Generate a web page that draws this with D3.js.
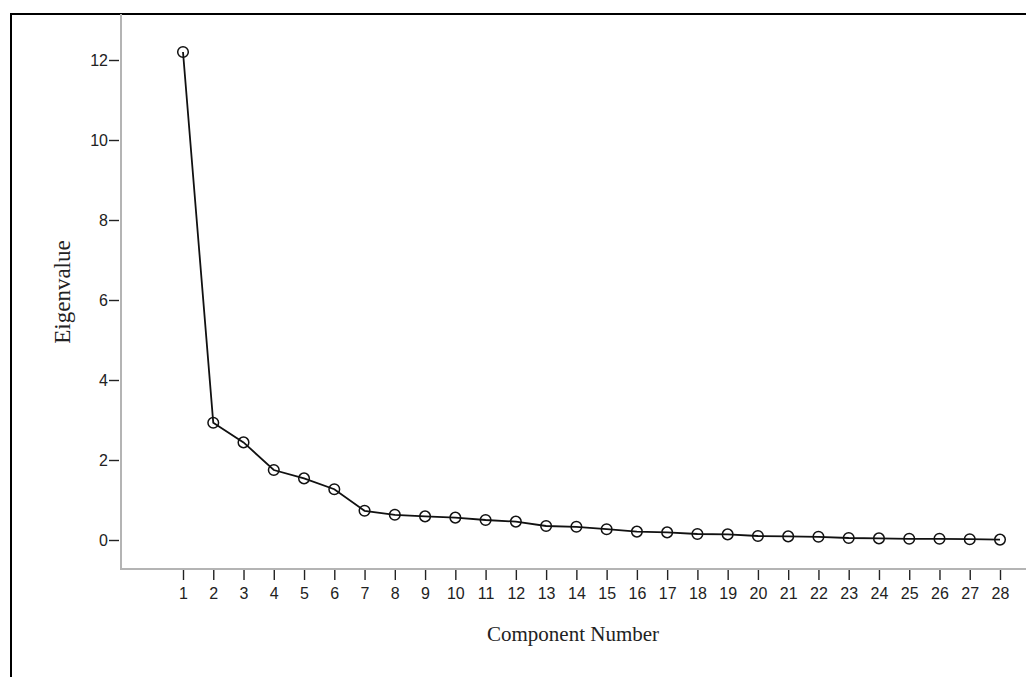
<!DOCTYPE html>
<html>
<head>
<meta charset="utf-8">
<script src="https://cdn.jsdelivr.net/npm/d3@7"></script>
<style>
  body { margin: 0; background: #fff; }
  svg { display: block; }
</style>
</head>
<body>
<div id="chart"></div>
<script>
// scree plot data
const components = d3.range(1, 29);
const eigenvalues = [12.2, 2.93, 2.44, 1.75, 1.54, 1.27, 0.73, 0.63, 0.59, 0.56,
  0.5, 0.46, 0.35, 0.33, 0.27, 0.21, 0.19, 0.15, 0.14, 0.1,
  0.09, 0.08, 0.05, 0.04, 0.03, 0.03, 0.02, 0.01];
const yTicks = [0, 2, 4, 6, 8, 10, 12];

const width = 1026;
const height = 677;

const svg = d3.select("#chart")
  .append("svg")
  .attr("width", width)
  .attr("height", height);

// outer frame (cut off at right and bottom)
svg.append("path")
  .attr("d", `M11,${height + 5} L11,14 L${width + 5},14`)
  .attr("fill", "none")
  .attr("stroke", "#000")
  .attr("stroke-width", 2);

const x = d3.scaleLinear().domain([1, 28]).range([183, 1000]);
const y = d3.scaleLinear().domain([0, 12]).range([540, 60]);

const axisX = 121;
const axisY = 569;

// gray axis lines
svg.append("line")
  .attr("x1", axisX).attr("x2", axisX)
  .attr("y1", 14).attr("y2", axisY + 1)
  .attr("stroke", "#b4b4b4").attr("stroke-width", 2);
svg.append("line")
  .attr("x1", axisX - 1).attr("x2", width)
  .attr("y1", axisY).attr("y2", axisY)
  .attr("stroke", "#b4b4b4").attr("stroke-width", 2);

const gx = svg.append("g")
  .attr("transform", `translate(0,${axisY + 1})`)
  .call(d3.axisBottom(x).tickValues(components).tickSize(10).tickPadding(8).tickFormat(d3.format("d")));
gx.select(".domain").remove();

const gy = svg.append("g")
  .attr("transform", `translate(${axisX - 2},0)`)
  .call(d3.axisLeft(y).tickValues(yTicks).tickSize(10).tickPadding(1).tickFormat(d3.format("d")));
gy.select(".domain").remove();

svg.selectAll(".tick line").attr("stroke", "#222").attr("stroke-width", 1.4);
svg.selectAll(".tick text")
  .attr("font-family", "'Liberation Sans', Arial, sans-serif")
  .attr("font-size", "16px")
  .attr("fill", "#222");

// axis titles
svg.append("text")
  .attr("x", 573)
  .attr("y", 641)
  .attr("text-anchor", "middle")
  .attr("font-family", "'Liberation Serif', 'Times New Roman', serif")
  .attr("font-size", "21px")
  .attr("fill", "#222")
  .text("Component Number");

svg.append("text")
  .attr("transform", "translate(70,292) rotate(-90)")
  .attr("text-anchor", "middle")
  .attr("font-family", "'Liberation Serif', 'Times New Roman', serif")
  .attr("font-size", "23px")
  .attr("fill", "#222")
  .text("Eigenvalue");

const points = components.map((c, i) => ({ c, v: eigenvalues[i] }));

const line = d3.line().x(d => x(d.c)).y(d => y(d.v));

svg.append("path")
  .datum(points)
  .attr("d", line)
  .attr("fill", "none")
  .attr("stroke", "#111")
  .attr("stroke-width", 1.8);

svg.selectAll("circle.pt")
  .data(points)
  .enter()
  .append("circle")
  .attr("class", "pt")
  .attr("cx", d => x(d.c))
  .attr("cy", d => y(d.v))
  .attr("r", 5.3)
  .attr("fill", "none")
  .attr("stroke", "#111")
  .attr("stroke-width", 1.5);
</script>
</body>
</html>
